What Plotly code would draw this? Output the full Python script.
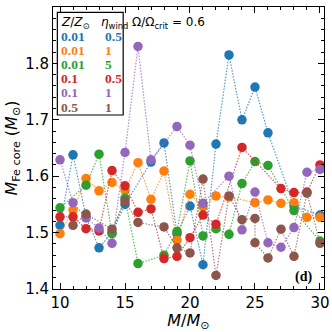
import plotly.graph_objects as go

# M_Fe core vs initial mass, Omega/Omega_crit = 0.6
blue_x = [10, 11, 12, 13, 14, 15, 17, 18, 19, 20, 21, 22, 23, 24, 25, 26, 28, 30]
blue_y = [1.513, 1.638, 1.528, 1.473, 1.500, 1.550, 1.625, 1.659, 1.498, 1.547, 1.443,
          1.657, 1.815, 1.700, 1.758, 1.677, 1.547, 1.531]

orange_x = [10, 11, 12, 13, 14, 15, 16, 17, 18, 19, 20, 21, 22, 23, 25, 26, 27, 28, 29, 30]
orange_y = [1.498, 1.540, 1.596, 1.574, 1.589, 1.575, 1.624, 1.559, 1.609, 1.487, 1.568,
            1.546, 1.565, 1.563, 1.553, 1.558, 1.552, 1.553, 1.527, 1.527]

green_x = [10, 12, 13, 14, 15, 16, 18, 19, 20, 21, 22, 23, 24, 25, 26, 28, 30]
green_y = [1.544, 1.584, 1.639, 1.498, 1.561, 1.445, 1.460, 1.502, 1.627, 1.494, 1.507,
           1.497, 1.587, 1.626, 1.619, 1.539, 1.485]

red_x = [10, 11, 12, 13, 14, 15, 16, 17, 18, 19, 20, 21, 22, 24, 27, 28, 29, 30]
red_y = [1.528, 1.528, 1.507, 1.503, 1.610, 1.583, 1.536, 1.542, 1.454, 1.458, 1.491,
         1.531, 1.515, 1.651, 1.578, 1.571, 1.572, 1.620]

purple_x = [10, 11, 12, 13, 14, 15, 16, 17, 19, 20, 21, 23, 24, 25, 26, 27, 28, 29, 30]
purple_y = [1.629, 1.553, 1.526, 1.508, 1.481, 1.642, 1.830, 1.629, 1.688, 1.655, 1.552,
            1.600, 1.505, 1.572, 1.482, 1.474, 1.509, 1.607, 1.612]

brown_x = [11, 12, 14, 15, 16, 18, 19, 20, 21, 22, 23, 24, 25, 25, 26, 27, 28, 29, 30]
brown_y = [1.513, 1.533, 1.506, 1.556, 1.518, 1.510, 1.473, 1.464, 1.595, 1.424, 1.565,
           1.523, 1.525, 1.482, 1.455, 1.506, 1.458, 1.570, 1.481]

z_labels = ['0.01', '0.01', '0.01', '0.1', '0.1', '0.5']
eta_labels = ['0.5', '1', '5', '0.5', '1', '1']
colors = ['#1f77b4', '#ff7f0e', '#2ca02c', '#d62728', '#9467bd', '#8c564b']
line_colors = ['rgba(31,119,180,0.75)', 'rgba(255,127,14,0.75)', 'rgba(44,160,44,0.75)',
               'rgba(214,39,40,0.75)', 'rgba(148,103,189,0.75)', 'rgba(140,86,75,0.75)']

series = [(blue_x, blue_y), (orange_x, orange_y), (green_x, green_y),
          (red_x, red_y), (purple_x, purple_y), (brown_x, brown_y)]

fig = go.Figure()
for i, (xs, ys) in enumerate(series):
    fig.add_trace(go.Scatter(
        x=xs, y=ys, mode='lines+markers',
        line=dict(color=line_colors[i], width=1.2, dash='1.5px,1.5px'),
        marker=dict(color=colors[i], size=9.5, line=dict(width=0)),
        showlegend=False))

font = 'DejaVu Sans'
axis_common = dict(showline=True, linecolor='black', linewidth=1, mirror='allticks',
                   ticks='inside', ticklen=6, tickcolor='black', showgrid=False,
                   zeroline=False, automargin=False,
                   tickfont=dict(family=font, size=15, color='black'))

fig.update_xaxes(range=[9.46, 30.31], tick0=10, dtick=5,
                 minor=dict(ticks='inside', dtick=1, ticklen=3, tickcolor='black'),
                 title=dict(text='<i>M</i>/<i>M</i><sub>⊙</sub>', standoff=5,
                            font=dict(family=font, size=16, color='black')),
                 **axis_common)
fig.update_yaxes(range=[1.4, 1.9], tick0=1.4, dtick=0.1, tickformat='.1f',
                 minor=dict(ticks='inside', dtick=0.02, ticklen=3, tickcolor='black'),
                 title=dict(text='<i>M</i><sub>Fe core</sub> (<i>M</i><sub>⊙</sub>)', standoff=3,
                            font=dict(family=font, size=16, color='black')),
                 **axis_common)

# legend-like table
fig.add_shape(type='rect', xref='paper', yref='paper', x0=0.016, x1=0.259, y0=0.617, y1=0.981,
              line=dict(color='black', width=1.2), fillcolor='white', layer='above')
fig.add_annotation(x=0.022, y=0.943, xref='paper', yref='paper', xanchor='left', yanchor='middle',
                   text='<i>Z</i>/<i>Z</i><sub>⊙</sub>', showarrow=False,
                   font=dict(family=font, size=12, color='black'))
fig.add_annotation(x=0.170, y=0.943, xref='paper', yref='paper', xanchor='left', yanchor='middle',
                   text='<i>η</i><sub>wind</sub>', showarrow=False,
                   font=dict(family=font, size=12, color='black'))
for i in range(6):
    yy = 0.8955 - 0.0501 * i
    fig.add_annotation(x=0.022, y=yy, xref='paper', yref='paper', xanchor='left', yanchor='middle',
                       text='<b>' + z_labels[i] + '</b>', showarrow=False,
                       font=dict(family='Liberation Serif', size=13.5, color=colors[i]))
    fig.add_annotation(x=0.186, y=yy, xref='paper', yref='paper', xanchor='left', yanchor='middle',
                       text='<b>' + eta_labels[i] + '</b>', showarrow=False,
                       font=dict(family='Liberation Serif', size=13.5, color=colors[i]))

fig.add_annotation(x=0.284, y=0.943, xref='paper', yref='paper', xanchor='left', yanchor='middle',
                   text='Ω/Ω<sub>crit</sub> = 0.6', showarrow=False,
                   font=dict(family=font, size=12, color='black'))
fig.add_annotation(x=0.962, y=0.042, xref='paper', yref='paper', xanchor='right', yanchor='middle',
                   text='<b>(d)</b>', showarrow=False,
                   font=dict(family='Liberation Serif', size=14, color='black'))

fig.update_layout(width=332, height=332, margin=dict(l=53, r=8, t=7, b=43),
                  plot_bgcolor='white', paper_bgcolor='white')

# the page body has a default 8px margin; drop it so the 332px figure fits the window
fig.write_html("out.html", config={'displayModeBar': False},
               post_script="document.body.style.margin='0';")
